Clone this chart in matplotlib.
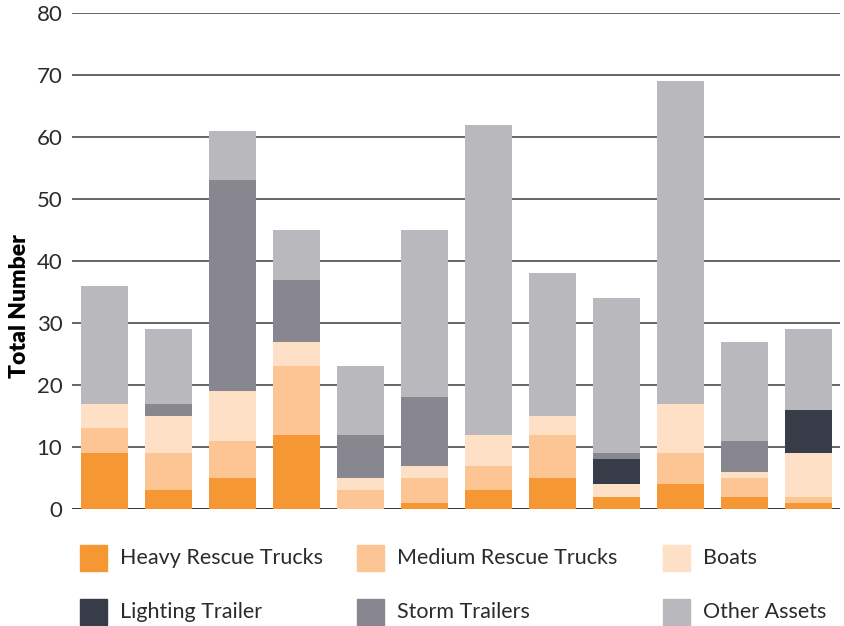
import numpy as np
import matplotlib.pyplot as plt
from matplotlib.patches import Rectangle

# Stacked asset counts per bar (bottom to top)
heavy = [9, 3, 5, 12, 0, 1, 3, 5, 2, 4, 2, 1]
medium = [4, 6, 6, 11, 3, 4, 4, 7, 0, 5, 3, 1]
boats = [4, 6, 8, 4, 2, 2, 5, 3, 2, 8, 1, 7]
lighting = [0, 0, 0, 0, 0, 0, 0, 0, 4, 0, 0, 7]
storm = [0, 2, 34, 10, 7, 11, 0, 0, 1, 0, 5, 0]
other = [19, 12, 8, 8, 11, 27, 50, 23, 25, 52, 16, 13]

labels = ["Heavy Rescue Trucks", "Medium Rescue Trucks", "Boats",
          "Lighting Trailer", "Storm Trailers", "Other Assets"]
colors = ["#F59733", "#FDC594", "#FDE0C5", "#373C48", "#88868E", "#B9B8BC"]
yticks = [0, 10, 20, 30, 40, 50, 60, 70, 80]

plt.rcParams["font.family"] = ["Lato", "DejaVu Sans"]

fig = plt.figure(figsize=(8.44, 6.26), dpi=100)
ax = fig.add_axes([72 / 844, 117 / 626, 768 / 844, 496 / 626])

x = np.arange(len(heavy))
bottom = np.zeros(len(heavy))
for vals, col in zip([heavy, medium, boats, lighting, storm, other], colors):
    ax.bar(x, vals, bottom=bottom, width=0.735, color=col, zorder=3)
    bottom += np.array(vals)

for t in yticks:
    ax.axhline(t, color="#000000" if t == 0 else "#3c3c3c", lw=1.1, zorder=1)

ax.set_xlim(-0.51, 11.49)
ax.set_ylim(0, 80)
ax.set_yticks(yticks)
ax.set_yticklabels([str(t) for t in yticks], fontsize=16, color="#2b2b2b")
ax.tick_params(axis="y", length=0, pad=7)
ax.set_xticks([])
for s in ax.spines.values():
    s.set_visible(False)

# y label sits a bit below the axes centre in the original
fig.text(20 / 844, 1 - 306 / 626, "Total Number", rotation=90, fontsize=16.5,
         fontweight="heavy", ha="center", va="center")

# Legend, 3 columns x 2 rows
col_x = [80, 357, 663]
row_y = [558, 612]
for i, (lab, col) in enumerate(zip(labels, colors)):
    px = col_x[i % 3]
    py = row_y[i // 3]
    fig.add_artist(Rectangle((px / 844, 1 - (py + 13) / 626), 27 / 844, 26 / 626,
                             transform=fig.transFigure, color=col))
    fig.text((px + 40) / 844, 1 - py / 626, lab, fontsize=15.5,
             va="center", ha="left", color="#2b2b2b")

plt.savefig("out.png", dpi=100)
